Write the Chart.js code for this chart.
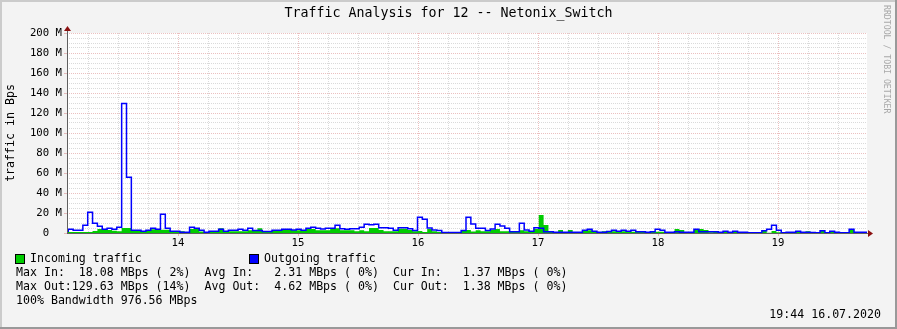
<!DOCTYPE html>
<html>
<head>
<meta charset="utf-8">
<title>Traffic Analysis for 12 -- Netonix_Switch</title>
<script src="https://cdn.jsdelivr.net/npm/chart.js@4"></script>
<style>
  html, body { margin: 0; padding: 0; background: #f3f3f3; }
  #wrap { width: 897px; height: 329px; }
</style>
</head>
<body>
<div id="wrap"><canvas id="grafico" width="897" height="329"></canvas></div>
<script>
// time axis: minutes after 13:00
const startMin = 2.725;
const stepMin = 2.425;
const viewFrom = 4.5;
const viewTo = 404.5;

// MBps per sample
const incoming = [
    1, 1, 1, 1, 1, 1, 2, 4, 3.7, 3, 2.3, 1.7, 5, 5, 2, 2, 1, 2, 3.7, 3.7,
    3.3, 3.3, 1.3, 1.3, 1.7, 1, 4, 4, 1.5, 1, 1.3, 1.3, 4.7, 2, 1.7, 1.7, 1.7, 1.7, 2.7, 2.7,
    4.7, 1.3, 1.3, 2.7, 2.3, 3.3, 3.3, 2.7, 2.7, 2.7, 4, 4, 2.7, 2.7, 2.7, 4.7, 4.7, 2.7, 2.7, 2.7,
    1.7, 2.7, 1.7, 5, 5, 3, 1.7, 1.7, 1.7, 4.3, 4.3, 3, 1.7, 2, 1, 4, 1.7, 1, 0.7, 0.7,
    0.7, 0.7, 2.3, 3, 1.5, 2.7, 1.7, 1.7, 3.3, 4, 1.7, 1.7, 1.3, 1.3, 2.7, 1.7, 1.7, 4, 18.1, 8,
    1.7, 0.7, 3, 0.7, 3, 0.7, 0.7, 2.7, 2.7, 1.7, 0.7, 1.7, 1.7, 1.7, 1, 1.7, 1.7, 1.3, 1.3, 1.3,
    0.7, 1.3, 1.3, 1.3, 0.7, 0.7, 4, 3, 0.7, 0.7, 3.7, 4, 3, 0.7, 1.7, 0.7, 1.7, 0.7, 1.7, 0.7,
    0.7, 0.3, 0.3, 0.3, 2.3, 0.3, 2, 0.7, 0.3, 0.3, 0.7, 1.3, 0.7, 1.7, 0.7, 0.3, 2.7, 0.3, 1.3, 0.7,
    0.3, 0.3, 3.7, 0.7, 0.7, 0.7
];
const outgoing = [
    1.7, 3.7, 2.7, 2.7, 7.7, 20.7, 9.7, 6.7, 3.7, 4.7, 3.7, 5.7, 129.6, 55.7, 2.7, 2.7, 1.7, 2.7, 4.7, 3.7,
    18.7, 4.7, 1.7, 1.7, 0.7, 0.7, 5.7, 4.7, 2.7, 0.7, 1.7, 1.7, 3.7, 1.7, 2.7, 2.7, 3.7, 2.7, 4.7, 2.5,
    2.5, 1.5, 1.5, 2.7, 2.7, 3.7, 3.7, 3, 3.7, 2.7, 4.7, 5.7, 4.7, 4, 4.7, 4.7, 7.7, 4.3, 3.7, 4.3,
    4.3, 5.7, 8.7, 8.3, 8.7, 5.3, 5.3, 4.7, 2.7, 5.3, 5.3, 4.3, 2.5, 15.7, 13.7, 5, 3, 2.5, 0.5, 0.5,
    0.5, 0.5, 2.5, 15.7, 9, 4.7, 4.7, 2.5, 4, 8.7, 7, 4.7, 1.3, 1.3, 9.7, 3, 1.7, 5.3, 4.7, 1.3,
    1.3, 0.7, 0.7, 0.7, 0.7, 0.7, 0.7, 2.7, 3.7, 1.7, 0.7, 0.7, 1.5, 2.7, 1.7, 2.7, 1.7, 2.7, 1.3, 1.3,
    0.7, 1.3, 3.7, 2.7, 0.7, 0.7, 1.3, 0.7, 0.7, 0.7, 3.7, 1.3, 1.3, 1.3, 1.3, 0.7, 1.7, 0.7, 1.7, 0.7,
    0.7, 0.3, 0.3, 0.3, 2.3, 3.7, 7.7, 2.7, 0.3, 0.7, 0.7, 1.7, 0.7, 0.7, 0.5, 0.3, 2.3, 0.3, 1.7, 0.7,
    0.3, 0.3, 3.7, 0.7, 0.7, 0.7
];

const hourTicks = [60, 120, 180, 240, 300, 360];
const hourLabels = ['14', '15', '16', '17', '18', '19'];
const quarterTicks = Array.from({ length: 26 }, (_, i) => 15 + i * 15);
const yTickValues = Array.from({ length: 41 }, (_, i) => i * 5);

const legendLines = [
    'Max In:  18.08 MBps ( 2%)  Avg In:   2.31 MBps ( 0%)  Cur In:   1.37 MBps ( 0%)',
    'Max Out:129.63 MBps (14%)  Avg Out:  4.62 MBps ( 0%)  Cur Out:  1.38 MBps ( 0%)',
    '100% Bandwidth 976.56 MBps'
];

const MONO = "'DejaVu Sans Mono', monospace";
const MAJOR = 'rgba(215,130,130,0.5)';
const MINOR = 'rgba(150,150,150,0.35)';
const ARROW = '#8b1010';
const NONE = 'rgba(0,0,0,0)';

// stepped samples, last value held to the end of its slot
const toPoints = vals => vals.map((v, i) => ({ x: startMin + i * stepMin, y: v }))
    .concat([{ x: startMin + vals.length * stepMin, y: vals[vals.length - 1] }]);

const rrdLook = {
    id: 'rrdLook',
    beforeDraw(chart) {
        const { ctx, chartArea: a, width, height } = chart;
        ctx.save();
        ctx.fillStyle = '#f3f3f3';
        ctx.fillRect(0, 0, width, height);
        ctx.fillStyle = '#ffffff';
        ctx.fillRect(a.left, a.top, a.right - a.left, a.bottom - a.top);
        ctx.fillStyle = '#cbcbcb';
        ctx.fillRect(0, 0, width, 2);
        ctx.fillRect(0, 0, 2, height);
        ctx.fillStyle = '#999999';
        ctx.fillRect(0, height - 2, width, 2);
        ctx.fillRect(width - 2, 0, 2, height);
        ctx.restore();
    },
    afterDatasetsDraw(chart) {
        const { ctx, chartArea: a } = chart;
        ctx.save();
        ctx.strokeStyle = '#606060';
        ctx.lineWidth = 1;
        ctx.beginPath();
        ctx.moveTo(a.left + 0.5, a.bottom);
        ctx.lineTo(a.left + 0.5, a.top - 4);
        ctx.moveTo(a.left, a.bottom + 0.5);
        ctx.lineTo(a.right + 2, a.bottom + 0.5);
        ctx.stroke();
        ctx.fillStyle = ARROW;
        ctx.beginPath();
        ctx.moveTo(a.left - 3, a.top - 2);
        ctx.lineTo(a.left + 4, a.top - 2);
        ctx.lineTo(a.left + 0.5, a.top - 7);
        ctx.closePath();
        ctx.fill();
        ctx.beginPath();
        ctx.moveTo(a.right + 1, a.bottom - 3);
        ctx.lineTo(a.right + 1, a.bottom + 4);
        ctx.lineTo(a.right + 6, a.bottom + 0.5);
        ctx.closePath();
        ctx.fill();
        ctx.restore();
    },
    afterDraw(chart) {
        const { ctx, width } = chart;
        ctx.save();
        ctx.fillStyle = '#000';
        ctx.textBaseline = 'middle';
        ctx.textAlign = 'center';
        ctx.font = '13.3px ' + MONO;
        ctx.fillText('Traffic Analysis for 12 -- Netonix_Switch', width / 2, 14);

        ctx.font = '11.6px ' + MONO;
        ctx.textAlign = 'left';
        ctx.fillStyle = '#00cc00';
        ctx.fillRect(16, 255, 8, 8);
        ctx.fillStyle = '#0000ff';
        ctx.fillRect(250, 255, 8, 8);
        ctx.strokeStyle = '#000';
        ctx.lineWidth = 1;
        ctx.strokeRect(15.5, 254.5, 9, 9);
        ctx.strokeRect(249.5, 254.5, 9, 9);
        ctx.fillStyle = '#000';
        ctx.fillText('Incoming traffic', 30, 259);
        ctx.fillText('Outgoing traffic', 264, 259);
        legendLines.forEach((line, i) => ctx.fillText(line, 16, 273 + i * 14));

        ctx.textAlign = 'right';
        ctx.fillText('19:44 16.07.2020', 881, 315);

        ctx.translate(886, 5);
        ctx.rotate(Math.PI / 2);
        ctx.textAlign = 'left';
        ctx.fillStyle = '#a8a8a8';
        ctx.font = '8.2px ' + MONO;
        ctx.fillText('RRDTOOL / TOBI OETIKER', 0, 0);
        ctx.restore();
    }
};

new Chart(document.getElementById('grafico').getContext('2d'), {
    type: 'line',
    data: {
        datasets: [{
            label: 'Outgoing traffic',
            data: toPoints(outgoing),
            borderColor: '#0000ff',
            borderWidth: 1.5,
            stepped: true,
            pointRadius: 0,
            fill: false,
            order: 0
        }, {
            label: 'Incoming traffic',
            data: toPoints(incoming),
            borderColor: '#00cc00',
            backgroundColor: '#00cc00',
            borderWidth: 0,
            stepped: true,
            pointRadius: 0,
            fill: 'origin',
            order: 1
        }]
    },
    options: {
        responsive: false,
        animation: false,
        devicePixelRatio: 1,
        layout: { padding: { top: 33, left: 0, right: 30, bottom: 74 } },
        plugins: {
            legend: { display: false },
            tooltip: { enabled: false },
            title: { display: false }
        },
        scales: {
            x: {
                type: 'linear',
                min: viewFrom,
                max: viewTo,
                afterBuildTicks: s => { s.ticks = quarterTicks.map(v => ({ value: v })); },
                afterFit: s => { s.height = 22; },
                ticks: {
                    autoSkip: false,
                    maxRotation: 0,
                    padding: 1,
                    color: '#000',
                    font: { family: MONO, size: 10.67 },
                    callback: v => {
                        const i = hourTicks.indexOf(v);
                        return i >= 0 ? hourLabels[i] : '';
                    }
                },
                grid: {
                    lineWidth: 1,
                    tickLength: 3,
                    color: c => (c.tick && c.tick.value % 60 === 0) ? MAJOR : MINOR,
                    tickColor: c => (c.tick && c.tick.value % 60 === 0) ? MAJOR : NONE
                },
                border: { display: false, dash: [1, 1] }
            },
            y: {
                min: 0,
                max: 200,
                afterBuildTicks: s => { s.ticks = yTickValues.map(v => ({ value: v })); },
                afterFit: s => { s.width = 67; },
                title: {
                    display: true,
                    text: 'traffic in Bps',
                    color: '#000',
                    font: { family: MONO, size: 11.6, lineHeight: 1.2 },
                    padding: { top: 4, bottom: 0 }
                },
                ticks: {
                    autoSkip: false,
                    padding: 2,
                    color: '#000',
                    font: { family: MONO, size: 10.67 },
                    callback: v => v % 20 ? '' : (v === 0 ? '0  ' : v + ' M')
                },
                grid: {
                    lineWidth: 1,
                    tickLength: 3,
                    color: c => (c.tick && c.tick.value % 20 === 0) ? MAJOR : MINOR,
                    tickColor: c => (c.tick && c.tick.value % 20 === 0) ? MAJOR : NONE
                },
                border: { display: false, dash: [1, 1] }
            }
        }
    },
    plugins: [rrdLook]
});
</script>
</body>
</html>
